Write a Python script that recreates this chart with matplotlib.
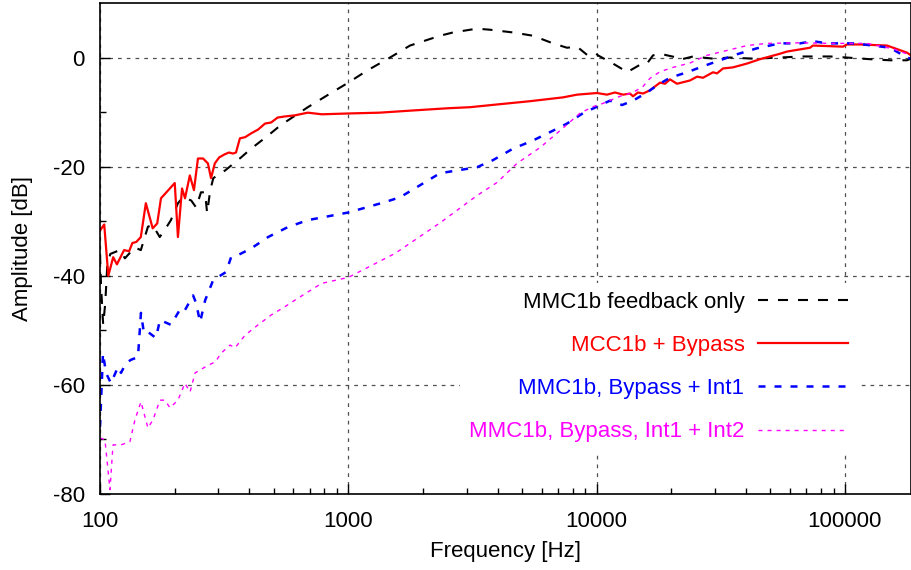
import matplotlib
matplotlib.use("Agg")
import matplotlib.pyplot as plt
from matplotlib.ticker import FixedLocator, NullFormatter, LogLocator

plt.rcParams['font.family'] = ['Liberation Sans', 'DejaVu Sans']

# ---- data ----
labels = ["MMC1b feedback only", "MCC1b + Bypass",
          "MMC1b, Bypass + Int1", "MMC1b, Bypass, Int1 + Int2"]

f_black = [100, 101, 103, 105, 107, 110, 120, 126, 138, 146, 156, 163, 174, 184, 193,
           206, 216, 233, 244, 255, 265, 270, 278, 286, 319, 370, 406, 475, 534, 687,
           866, 1000, 1189, 1472, 1772, 2341, 2641, 3298, 3721, 4606, 5544, 6675, 7600,
           8340, 9150, 9854, 10130, 11640, 12780, 13260, 15240, 15960, 16870, 18000,
           21080, 21670, 24450, 29430, 34450, 42650, 54780, 65960, 87100, 101970,
           126200, 151900, 177900, 184600]
db_black = [-36, -42, -49, -45, -38, -36, -35.3, -36.8, -34.8, -35.3, -31, -30.7, -32.9,
            -31.3, -29.8, -26.7, -25.6, -26.2, -27.5, -24.7, -24.7, -28.5, -24.3, -22.1,
            -20.7, -18.3, -16.7, -14.3, -12.4, -9.1, -6.3, -4.6, -2.4, 0, 2.2, 4.0, 4.6,
            5.3, 5.1, 4.6, 4.0, 2.6, 1.8, 2.0, 0.5, 0.9, 0.4, -1.1, -2.2, -2.7, -1.1,
            -1.1, 0.4, 0.7, 0, -0.4, 0.2, -0.2, 0, -0.2, 0, 0.2, 0.2, 0, -0.3, -0.5,
            -0.5, -0.2]

f_red = [100, 104, 108, 113, 117, 125, 131, 135, 140, 146, 153, 163, 170, 176, 200, 206,
         214, 220, 230, 239, 248, 260, 272, 280, 290, 302, 319, 331, 343, 353, 366, 384,
         406, 433, 462, 489, 519, 554, 608, 687, 782, 1000, 1340, 1820, 2500, 3090, 3970,
         5390, 7320, 8340, 10040, 11010, 11860, 12780, 13630, 14020, 14680, 15380,
         16410, 18000, 18860, 19750, 21080, 23780, 25380, 26830, 29430, 30540, 32290,
         35420, 40340, 45500, 54780, 58460, 72350, 74380, 98260, 101970, 115000,
         147800, 177900, 184600]
db_red = [-31.7, -30.6, -40, -36.6, -37.9, -35.3, -35.5, -34, -33.8, -32.9, -26.7, -31.3,
          -30.4, -25.8, -23, -32.9, -24, -25.8, -21.6, -24.3, -18.5, -18.5, -19.4, -22.1,
          -19.4, -18.3, -17.7, -17.4, -17.6, -17.4, -14.8, -14.6, -13.9, -13.2, -12.1,
          -11.9, -11, -10.8, -10.6, -10.1, -10.4, -10.25, -10.1, -9.7, -9.3, -9.1, -8.6,
          -8.0, -7.3, -6.8, -6.5, -6.8, -6.4, -6.8, -6.6, -7.1, -6.4, -6.6, -6.0, -4.6,
          -4.8, -4.0, -4.8, -4.2, -3.5, -3.7, -2.7, -2.9, -2.0, -1.8, -1.1, -0.3, 0.7,
          1.1, 1.8, 2.2, 2.0, 2.4, 2.4, 2.2, 0.9, 0.4]

f_blue = [100, 100.9, 102.8, 105.7, 110.7, 118.2, 121.5, 127.3, 133.3, 142.2, 146.2,
          150.3, 156, 168, 174.4, 193.1, 211.7, 219.8, 237.1, 243.8, 253, 265.1, 285.6,
          322, 337.2, 359.8, 405.8, 475.3, 569.7, 686.7, 1000, 1404, 1617, 2341, 3298,
          3826, 4606, 5544, 6675, 7600, 8814, 10040, 11320, 12660, 14020, 15960, 17510,
          19750, 23130, 26830, 31400, 36770, 44260, 54780, 65960, 74380, 84730, 107800,
          129800, 151900, 177900, 184600]
db_blue = [-67.7, -63.3, -54.2, -57.8, -59.7, -56.7, -57.8, -56, -55.4, -54.9, -46.8,
           -50.5, -50.3, -51.4, -48.1, -49, -45.9, -46.3, -43.6, -45, -48.5, -44.5, -40.8,
           -39.3, -36.6, -36.2, -35, -32.9, -31.1, -29.8, -28.4, -26.5, -25.6, -21.2,
           -20.1, -18.8, -16.7, -15.2, -13.4, -12.1, -10.2, -9.0, -7.9, -8.7, -7.9, -6.4,
           -5.1, -3.7, -2.7, -1.6, -0.5, 0.6, 1.7, 2.6, 2.6, 3.0, 2.6, 2.6, 2.2, 1.8, 0,
           -0.2]

f_mag = [100, 104.7, 109.7, 112.8, 121.5, 132, 138.3, 146.2, 156, 163.4, 174.4, 182.6,
         191.3, 206, 219.8, 230.5, 241.5, 272.6, 291, 307.5, 334.1, 349.9, 383.8, 433.1,
         488.6, 554.2, 608.1, 780, 1000, 1543, 2341, 3298, 3972, 4779, 5917, 7122, 8574,
         9672, 10611, 12426, 14018, 15380, 16410, 18000, 20310, 23780, 27830, 33510,
         40340, 48570, 65960, 89570, 122700, 156200, 184600]
db_mag = [-69.7, -70.1, -79.2, -71, -71, -70.4, -66.4, -63.1, -67.9, -66.4, -62.8, -62.8,
          -64.2, -62.8, -59.7, -61.3, -57.8, -56.4, -55.8, -54.2, -52.7, -53.2, -50.9,
          -49, -47.2, -45.7, -44.5, -41.4, -40.3, -35.9, -30.3, -25.3, -22.9, -19.4,
          -16.5, -13.4, -10.2, -9.0, -8.4, -7.1, -6.4, -5.3, -3.8, -2.6, -1.8, -1.0, 0.4,
          1.3, 2.2, 2.6, 2.7, 2.6, 2.6, 1.6, 0.4]

x_ticks = [100, 1000, 10000, 100000]
x_ticklabels = ["100", "1000", "10000", "100000"]
y_ticks = [-80, -60, -40, -20, 0]
y_ticklabels = ["-80", "-60", "-40", "-20", "0"]

FS = 16

# ---- figure ----
fig = plt.figure(figsize=(9.11, 5.70), dpi=100)
ax = fig.add_axes([100 / 911, 1 - 494 / 570, 811 / 911, 491 / 570])

ax.plot(f_black, db_black, color='black', lw=1.5, linestyle=(0, (4.8, 4.8)), label=labels[0])
ax.plot(f_red, db_red, color='#ff0000', lw=1.6, linestyle='-', label=labels[1])
ax.plot(f_blue, db_blue, color='#0000ff', lw=1.8, linestyle=(0, (2.8, 3.6)), label=labels[2])
ax.plot(f_mag, db_mag, color='#ff00ff', lw=1.0, linestyle=(0, (2.9, 3.6)), label=labels[3])

ax.set_xscale('log')
ax.set_xlim(100, 184600)
ax.set_ylim(-80, 10)

ax.xaxis.set_major_locator(FixedLocator(x_ticks))
ax.set_xticklabels(x_ticklabels)
ax.xaxis.set_minor_locator(LogLocator(base=10, subs=range(2, 10)))
ax.xaxis.set_minor_formatter(NullFormatter())
ax.set_yticks(y_ticks)
ax.set_yticklabels(y_ticklabels)
ax.yaxis.set_minor_locator(FixedLocator([-70, -50, -30, -10]))

ax.tick_params(which='both', direction='in', top=False, right=False, labelsize=FS)
ax.tick_params(which='major', length=7, width=1.0)
ax.tick_params(which='minor', length=4, width=1.0)
ax.tick_params(axis='y', pad=11)
ax.tick_params(axis='x', pad=12)

ax.grid(which='major', color='#505050', linestyle=(0, (3, 4)), linewidth=0.9)
ax.set_axisbelow(True)

for s in ax.spines.values():
    s.set_linewidth(1.2)

ax.set_xlabel("Frequency [Hz]", fontsize=FS, labelpad=7)
ax.set_ylabel("Amplitude [dB]", fontsize=FS, labelpad=14)

leg = ax.legend(loc='upper right', bbox_to_anchor=(0.933, 0.43), markerfirst=False,
                frameon=True, fancybox=False, framealpha=1.0, facecolor='white',
                edgecolor='none', fontsize=FS, handlelength=4.05, handletextpad=0.6,
                labelspacing=1.0, borderpad=0.4, borderaxespad=0)
for txt, line in zip(leg.get_texts(), leg.get_lines()):
    txt.set_color(line.get_color())

fig.savefig("out.png", dpi=100)
